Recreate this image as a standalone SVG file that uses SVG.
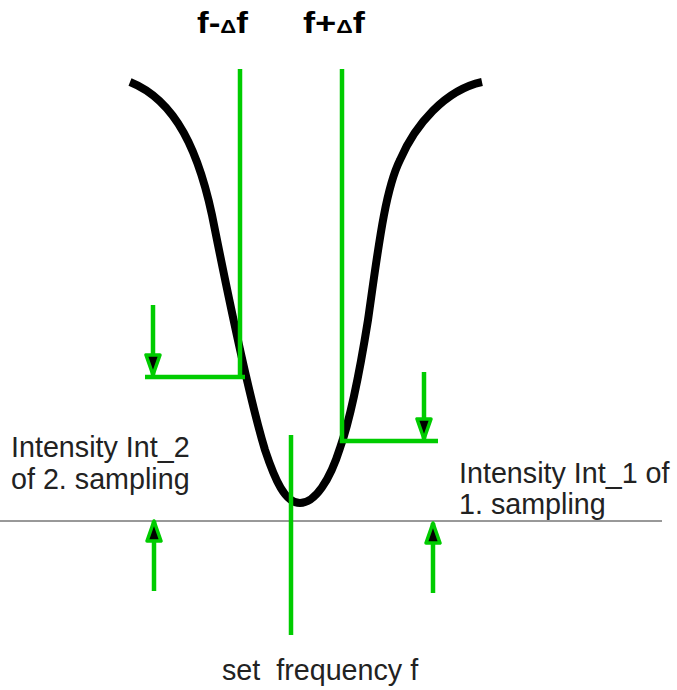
<svg xmlns="http://www.w3.org/2000/svg" width="677" height="690" viewBox="0 0 677 690">
<style>
.g{stroke:#00cc00;stroke-width:4.5;fill:none}
.t{font-family:"Liberation Sans",Arial,sans-serif;font-size:28.7px;fill:#222}
.h{font-family:"Liberation Sans",Arial,sans-serif;font-size:30px;font-weight:bold;fill:#000}
</style>
<defs>
<marker id="ah" viewBox="0 0 24 18" refX="22" refY="9" markerWidth="24" markerHeight="18" markerUnits="userSpaceOnUse" orient="auto">
<path d="M2,2 L22,9 L2,16 Z" fill="#000" stroke="#00cc00" stroke-width="3.5" stroke-linejoin="round"/>
</marker>
</defs>
<rect width="677" height="690" fill="#fff"/>
<g id="baseline"><line x1="0" y1="521" x2="662" y2="521" stroke="#333" stroke-width="1"/></g>
<g id="curve"><path d="M130,82 C175,100 200,150 215,230 C235,330 250,400 265,450 C275,480 285,503 300,503 C315,503 330,480 340,448 C350,420 360,370 368,320 C378,250 385,190 400,160 C415,125 445,90 482,82" fill="none" stroke="#000" stroke-width="8"/></g>
<g id="connectors">
<line class="g" x1="240" y1="69" x2="240" y2="379"/>
<line class="g" x1="342" y1="69" x2="342" y2="443"/>
<line class="g" x1="291" y1="435" x2="291" y2="635"/>
<line class="g" x1="145" y1="377" x2="245" y2="377"/>
<line class="g" x1="340" y1="441" x2="438" y2="441"/>
<line class="g" x1="153" y1="305" x2="153" y2="375" marker-end="url(#ah)"/>
<line class="g" x1="424" y1="372" x2="424" y2="439" marker-end="url(#ah)"/>
<line class="g" x1="154" y1="591" x2="154" y2="521" marker-end="url(#ah)"/>
<line class="g" x1="433" y1="593" x2="433" y2="523" marker-end="url(#ah)"/>
</g>
<g id="labels">
<text class="h" x="197" y="33" textLength="51" lengthAdjust="spacingAndGlyphs">f-<tspan font-size="19">Δ</tspan>f</text>
<text class="h" x="303" y="33" textLength="62" lengthAdjust="spacingAndGlyphs">f+<tspan font-size="19">Δ</tspan>f</text>
<text class="t" x="11" y="457">Intensity Int_2</text>
<text class="t" x="11" y="489">of 2. sampling</text>
<text class="t" x="459" y="483">Intensity Int_1 of</text>
<text class="t" x="459" y="514">1. sampling</text>
<text class="t" x="222" y="680" xml:space="preserve">set  frequency f</text>
</g>
</svg>
